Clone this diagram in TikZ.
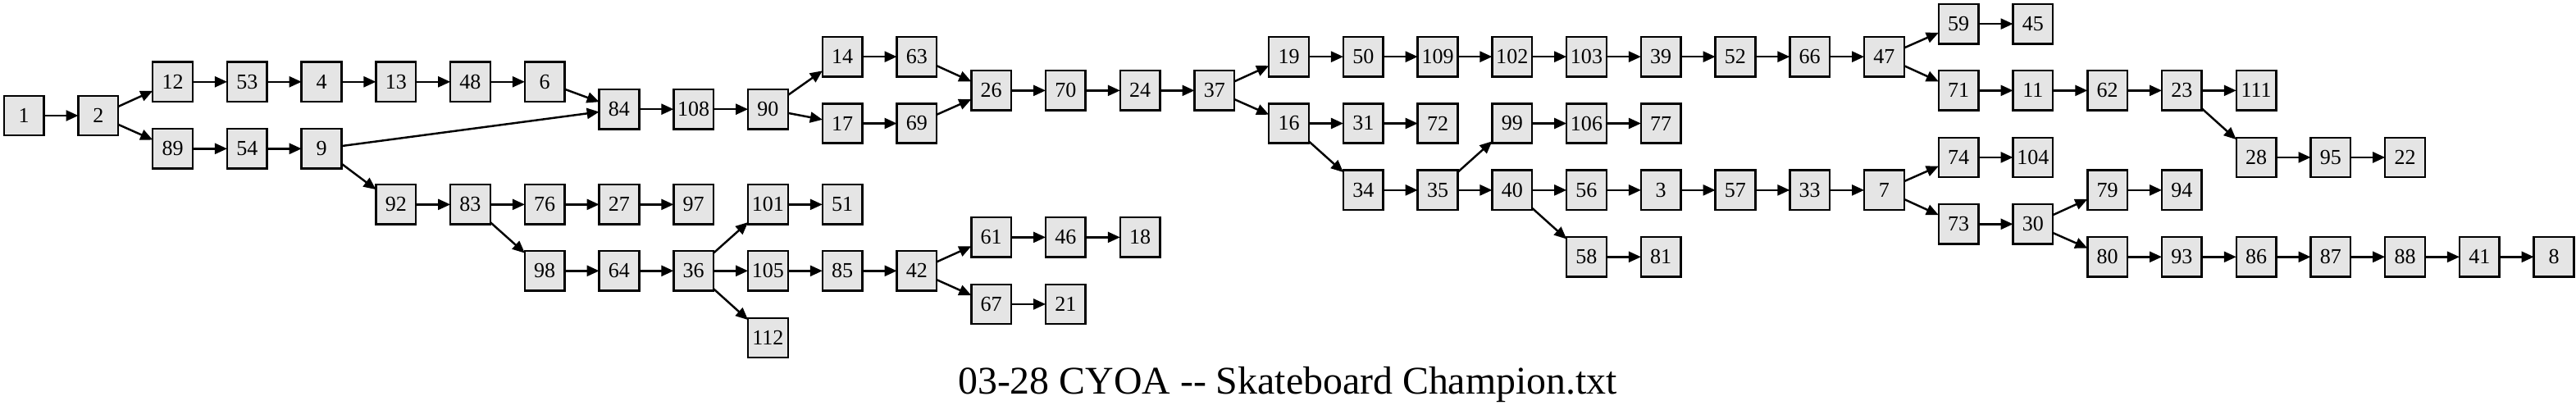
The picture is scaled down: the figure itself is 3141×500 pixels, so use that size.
\documentclass[tikz,border=0pt]{standalone}
\usepackage{fontspec}
\setmainfont{Liberation Serif}
\usepackage{tikz}
\usetikzlibrary{arrows.meta,positioning}

\definecolor{pagefill}{RGB}{229,229,229}

\begin{document}
\begin{tikzpicture}[x=0.01cm, y=0.01cm, node distance=4.208mm]
    % story graph
    \tikzset{passage/.style = {shape=rectangle, draw, fill=pagefill, line width=0.7pt,
        inner sep=0pt, outer sep=0pt, minimum width=4.86mm, minimum height=4.83mm,
        font=\fontsize{7.4}{8}\selectfont}}
    \tikzset{pre/.style = {<-, >={Triangle[length=1.5mm, width=1.3mm]}, line width=0.7pt}}
    \tikzset{caption/.style = {font=\fontsize{13.6}{16}\selectfont}}

    \useasboundingbox (0,0) rectangle (3141,-500);

    % start
    \node[passage] (p1) at (29.1,-141) {1};
    \node[passage] (p2) [right=of p1] {2}
       edge [pre] (p1);

    % upper path to 84
    \node[passage] (p12) [right=of p2, yshift=4.12mm] {12}
       edge [pre] (p2);
    \node[passage] (p53) [right=of p12] {53}
       edge [pre] (p12);
    \node[passage] (p4) [right=of p53] {4}
       edge [pre] (p53);
    \node[passage] (p13) [right=of p4] {13}
       edge [pre] (p4);
    \node[passage] (p48) [right=of p13] {48}
       edge [pre] (p13);
    \node[passage] (p6) [right=of p48] {6}
       edge [pre] (p48);

    % lower path
    \node[passage] (p89) [right=of p2, yshift=-4.03mm] {89}
       edge [pre] (p2);
    \node[passage] (p54) [right=of p89] {54}
       edge [pre] (p89);
    \node[passage] (p9) [right=of p54] {9}
       edge [pre] (p54);
    \node[passage] (p92) [right=of p9, yshift=-6.8mm] {92}
       edge [pre] (p9);
    \node[passage] (p83) [right=of p92] {83}
       edge [pre] (p92);
    \node[passage] (p76) [right=of p83] {76}
       edge [pre] (p83);
    \node[passage] (p27) [right=of p76] {27}
       edge [pre] (p76);
    \node[passage] (p97) [right=of p27] {97}
       edge [pre] (p27);
    \node[passage] (p98) [right=of p83, yshift=-8.09mm] {98}
       edge [pre] (p83);
    \node[passage] (p64) [right=of p98] {64}
       edge [pre] (p98);
    \node[passage] (p36) [right=of p64] {36}
       edge [pre] (p64);
    \node[passage] (p101) [right=of p36, yshift=8.09mm] {101}
       edge [pre] (p36);
    \node[passage] (p51) [right=of p101] {51}
       edge [pre] (p101);
    \node[passage] (p105) [right=of p36] {105}
       edge [pre] (p36);
    \node[passage] (p112) [right=of p36, yshift=-8.16mm] {112}
       edge [pre] (p36);
    \node[passage] (p85) [right=of p105] {85}
       edge [pre] (p105);
    \node[passage] (p42) [right=of p85] {42}
       edge [pre] (p85);
    \node[passage] (p61) [right=of p42, yshift=4.09mm] {61}
       edge [pre] (p42);
    \node[passage] (p46) [right=of p61] {46}
       edge [pre] (p61);
    \node[passage] (p18) [right=of p46] {18}
       edge [pre] (p46);
    \node[passage] (p67) [right=of p42, yshift=-4.06mm] {67}
       edge [pre] (p42);
    \node[passage] (p21) [right=of p67] {21}
       edge [pre] (p67);

    % main line
    \node[passage] (p84) [right=of p6, yshift=-3.34mm] {84}
       edge [pre] (p6)
       edge [pre] (p9);
    \node[passage] (p108) [right=of p84] {108}
       edge [pre] (p84);
    \node[passage] (p90) [right=of p108] {90}
       edge [pre] (p108);
    \node[passage] (p14) [right=of p90, yshift=6.4mm] {14}
       edge [pre] (p90);
    \node[passage] (p17) [right=of p90, yshift=-1.73mm] {17}
       edge [pre] (p90);
    \node[passage] (p63) [right=of p14] {63}
       edge [pre] (p14);
    \node[passage] (p69) [right=of p17] {69}
       edge [pre] (p17);
    \node[passage] (p26) [right=of p63, yshift=-4.12mm] {26}
       edge [pre] (p63)
       edge [pre] (p69);
    \node[passage] (p70) [right=of p26] {70}
       edge [pre] (p26);
    \node[passage] (p24) [right=of p70] {24}
       edge [pre] (p70);
    \node[passage] (p37) [right=of p24] {37}
       edge [pre] (p24);

    % upper branch after 37
    \node[passage] (p19) [right=of p37, yshift=4.12mm] {19}
       edge [pre] (p37);
    \node[passage] (p50) [right=of p19] {50}
       edge [pre] (p19);
    \node[passage] (p109) [right=of p50] {109}
       edge [pre] (p50);
    \node[passage] (p102) [right=of p109] {102}
       edge [pre] (p109);
    \node[passage] (p103) [right=of p102] {103}
       edge [pre] (p102);
    \node[passage] (p39) [right=of p103] {39}
       edge [pre] (p103);
    \node[passage] (p52) [right=of p39] {52}
       edge [pre] (p39);
    \node[passage] (p66) [right=of p52] {66}
       edge [pre] (p52);
    \node[passage] (p47) [right=of p66] {47}
       edge [pre] (p66);
    \node[passage] (p59) [right=of p47, yshift=4mm] {59}
       edge [pre] (p47);
    \node[passage] (p45) [right=of p59] {45}
       edge [pre] (p59);
    \node[passage] (p71) [right=of p47, yshift=-4.12mm] {71}
       edge [pre] (p47);
    \node[passage] (p11) [right=of p71] {11}
       edge [pre] (p71);
    \node[passage] (p62) [right=of p11] {62}
       edge [pre] (p11);
    \node[passage] (p23) [right=of p62] {23}
       edge [pre] (p62);
    \node[passage] (p111) [right=of p23] {111}
       edge [pre] (p23);
    \node[passage] (p28) [right=of p23, yshift=-8.15mm] {28}
       edge [pre] (p23);
    \node[passage] (p95) [right=of p28] {95}
       edge [pre] (p28);
    \node[passage] (p22) [right=of p95] {22}
       edge [pre] (p95);

    % lower branch after 37
    \node[passage] (p16) [right=of p37, yshift=-4.01mm] {16}
       edge [pre] (p37);
    \node[passage] (p31) [right=of p16] {31}
       edge [pre] (p16);
    \node[passage] (p72) [right=of p31] {72}
       edge [pre] (p31);
    \node[passage] (p34) [right=of p16, yshift=-8.13mm] {34}
       edge [pre] (p16);
    \node[passage] (p35) [right=of p34] {35}
       edge [pre] (p34);
    \node[passage] (p99) [right=of p35, yshift=8.13mm] {99}
       edge [pre] (p35);
    \node[passage] (p106) [right=of p99] {106}
       edge [pre] (p99);
    \node[passage] (p77) [right=of p106] {77}
       edge [pre] (p106);
    \node[passage] (p40) [right=of p35] {40}
       edge [pre] (p35);
    \node[passage] (p58) [right=of p40, yshift=-8.14mm] {58}
       edge [pre] (p40);
    \node[passage] (p81) [right=of p58] {81}
       edge [pre] (p58);
    \node[passage] (p56) [right=of p40] {56}
       edge [pre] (p40);
    \node[passage] (p3) [right=of p56] {3}
       edge [pre] (p56);
    \node[passage] (p57) [right=of p3] {57}
       edge [pre] (p3);
    \node[passage] (p33) [right=of p57] {33}
       edge [pre] (p57);
    \node[passage] (p7) [right=of p33] {7}
       edge [pre] (p33);
    \node[passage] (p74) [right=of p7, yshift=3.99mm] {74}
       edge [pre] (p7);
    \node[passage] (p104) [right=of p74] {104}
       edge [pre] (p74);
    \node[passage] (p73) [right=of p7, yshift=-4.14mm] {73}
       edge [pre] (p7);
    \node[passage] (p30) [right=of p73] {30}
       edge [pre] (p73);
    \node[passage] (p79) [right=of p30, yshift=4.14mm] {79}
       edge [pre] (p30);
    \node[passage] (p94) [right=of p79] {94}
       edge [pre] (p79);
    \node[passage] (p80) [right=of p30, yshift=-4mm] {80}
       edge [pre] (p30);
    \node[passage] (p93) [right=of p80] {93}
       edge [pre] (p80);
    \node[passage] (p86) [right=of p93] {86}
       edge [pre] (p93);
    \node[passage] (p87) [right=of p86] {87}
       edge [pre] (p86);
    \node[passage] (p88) [right=of p87] {88}
       edge [pre] (p87);
    \node[passage] (p41) [right=of p88] {41}
       edge [pre] (p88);
    \node[passage] (p8) [right=of p41] {8}
       edge [pre] (p41);

    % title
    \node[caption, anchor=base] (title) at (1570,-480) {03-28 CYOA -{}- Skateboard Champion.txt};
\end{tikzpicture}
\end{document}
